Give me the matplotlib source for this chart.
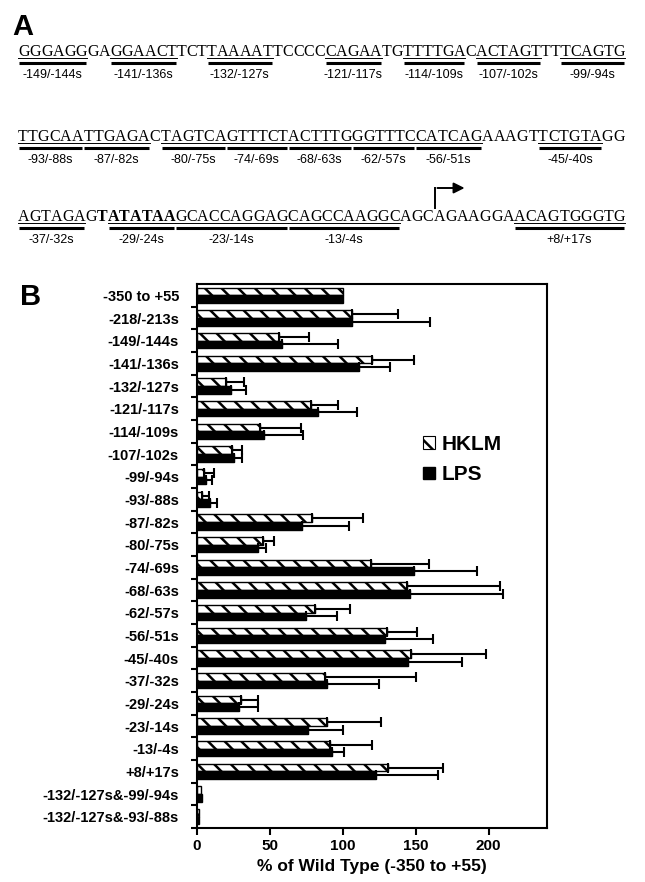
import matplotlib
matplotlib.use("Agg")
import numpy as np
from matplotlib import pyplot as plt
from matplotlib.patches import Patch

plt.rcParams['font.family'] = ['Liberation Sans', 'DejaVu Sans']
plt.rcParams['hatch.linewidth'] = 1.8

# ---- panel A: promoter sequence ----
seq_lines = [
    "GGGAGGGAGGAACTTCTTAAAATTCCCCCAGAATGTTTTGACACTAGTTTTCAGTG",
    "TTGCAATTGAGACTAGTCAGTTTCTACTTTGGGTTTCCATCAGAAAGTTCTGTAGG",
    "AGTAGAGTATATAAGCACCAGGAGCAGCCAAGGCAGCAGAAGGAACAGTGGGTG",
]
# (line, first char, last char, label)
seq_marks = [
    (0, 0, 5, "-149/-144s"), (0, 8, 13, "-141/-136s"), (0, 17, 22, "-132/-127s"),
    (0, 28, 32, "-121/-117s"), (0, 35, 40, "-114/-109s"), (0, 42, 47, "-107/-102s"),
    (0, 50, 55, "-99/-94s"),
    (1, 0, 5, "-93/-88s"), (1, 6, 11, "-87/-82s"), (1, 13, 18, "-80/-75s"),
    (1, 19, 24, "-74/-69s"), (1, 25, 30, "-68/-63s"), (1, 31, 36, "-62/-57s"),
    (1, 37, 42, "-56/-51s"), (1, 48, 53, "-45/-40s"),
    (2, 0, 5, "-37/-32s"), (2, 8, 13, "-29/-24s"), (2, 14, 23, "-23/-14s"),
    (2, 24, 33, "-13/-4s"), (2, 44, 53, "+8/+17s"),
]
tata_box = (2, 7, 13)   # bold letters
tss = (2, 37)           # transcription start (+1)

# ---- panel B: reporter activity ----
constructs = ["-350 to +55", "-218/-213s", "-149/-144s", "-141/-136s", "-132/-127s",
              "-121/-117s", "-114/-109s", "-107/-102s", "-99/-94s", "-93/-88s",
              "-87/-82s", "-80/-75s", "-74/-69s", "-68/-63s", "-62/-57s", "-56/-51s",
              "-45/-40s", "-37/-32s", "-29/-24s", "-23/-14s", "-13/-4s", "+8/+17s",
              "-132/-127s&-99/-94s", "-132/-127s&-93/-88s"]
hklm = [100, 106, 56, 120, 20, 78, 43, 24, 5, 3.5, 79, 45, 119, 144, 81, 130,
        147, 88, 30, 89, 91, 131, 3, 1.5]
hklm_err = [0, 32, 21, 29, 12, 19, 28, 7, 6.5, 5, 35, 7.5, 40, 64, 24, 21,
            51, 62, 12, 37, 29, 38, 0, 0]
lps = [100, 106, 58, 111, 23, 83, 46, 25.5, 6.5, 9, 72, 42, 149, 146, 75, 129,
       145, 89, 29, 76, 92.5, 123, 3.5, 1.5]
lps_err = [0, 54, 39, 21, 10.5, 27, 27, 5.5, 3.5, 5, 32, 5, 43, 64, 21, 33,
           37, 36, 13, 24, 8.5, 42, 0, 0]

W, H = 645, 882
fig = plt.figure(figsize=(W / 100, H / 100), dpi=100)
ax0 = fig.add_axes([0, 0, 1, 1])
ax0.set_xlim(0, W)
ax0.set_ylim(H, 0)
ax0.axis('off')
renderer = fig.canvas.get_renderer()

seq_font = dict(family=['Liberation Serif', 'DejaVu Serif'], fontsize=11.5)


def text_width(s, weight):
    t = ax0.text(0, 0, s, weight=weight, **seq_font)
    w = t.get_window_extent(renderer).width
    t.remove()
    return w


x_left, x_right = 18, 625
baselines = [56, 141, 221]
char_pos = []
for li, line in enumerate(seq_lines):
    weights = ['normal'] * len(line)
    if li == tata_box[0]:
        for k in range(tata_box[1], tata_box[2] + 1):
            weights[k] = 'bold'
    base = {wt: text_width("HH", wt) for wt in set(weights)}
    widths = np.array([text_width("H" + c + "H", wt) - base[wt]
                       for c, wt in zip(line, weights)])
    slack = (x_right - x_left - widths.sum()) / (len(line) - 1)
    xs = x_left + np.concatenate([[0], np.cumsum(widths[:-1])]) + slack * np.arange(len(line))
    char_pos.append((xs, widths))
    for c, wt, x in zip(line, weights, xs):
        ax0.text(x, baselines[li], c, ha='left', va='baseline', weight=wt, **seq_font)

for li, a, b, lab in seq_marks:
    xs, widths = char_pos[li]
    x1, x2 = xs[a], xs[b] + widths[b]
    yb = baselines[li]
    ax0.plot([x1, x2], [yb + 2, yb + 2], color='black', lw=0.7)
    ax0.plot([x1 + 1, x2 - 1], [yb + 7, yb + 7], color='black', lw=2.2, solid_capstyle='butt')
    ax0.text((x1 + x2) / 2, yb + 19, lab, ha='center', va='center', fontsize=9)

# transcription start arrow
xs, widths = char_pos[tss[0]]
xa = xs[tss[1]] + 2
ya = baselines[tss[0]]
ax0.plot([xa, xa], [ya - 13, ya - 33], color='black', lw=1.4)
ax0.annotate('', xy=(xa + 32, ya - 33), xytext=(xa - 0.7, ya - 33),
             arrowprops=dict(arrowstyle='-|>', color='black', lw=1.4, mutation_scale=16))

fig.text(12 / W, 1 - 35 / H, "A", fontsize=21, weight='bold')
fig.text(20 / W, 1 - 305 / H, "B", fontsize=21, weight='bold')

# ---- panel B ----
ax = fig.add_axes([197 / W, 1 - 828 / H, 350 / W, 544 / H])
n = len(constructs)
y = np.arange(n)
h = 0.335
hklm = np.array(hklm, float)
lps = np.array(lps, float)
hklm_err = np.array(hklm_err, float)
lps_err = np.array(lps_err, float)

ax.barh(y - h / 2, hklm, height=h, color='white', edgecolor='black',
        hatch='\\\\', linewidth=1)
ax.barh(y + h / 2, lps, height=h, color='black', edgecolor='black', linewidth=1)

m = hklm_err > 0
ax.errorbar(hklm[m], y[m] - h / 2, xerr=[np.zeros(m.sum()), hklm_err[m]], fmt='none',
            ecolor='black', elinewidth=1.5, capsize=3.5, capthick=1.5)
m = lps_err > 0
ax.errorbar(lps[m], y[m] + h / 2, xerr=[np.zeros(m.sum()), lps_err[m]], fmt='none',
            ecolor='black', elinewidth=1.5, capsize=3.5, capthick=1.5)

ax.set_xlim(0, 240)
ax.set_ylim(n - 0.5, -0.5)
ax.set_yticks(y)
ax.set_yticklabels(constructs, fontweight='bold', fontsize=10.5)
ax.set_yticks(np.arange(0.5, n, 1), minor=True)
ax.tick_params(axis='y', which='major', length=0, pad=13)
ax.tick_params(axis='y', which='minor', length=4, width=1.5, direction='out')
ax.set_xticks([0, 50, 100, 150, 200])
ax.tick_params(axis='x', length=5, width=1.5, labelsize=11, pad=3)
for lab in ax.get_xticklabels():
    lab.set_fontweight('bold')
for sp in ax.spines.values():
    sp.set_linewidth(1.5)
ax.set_xlabel("% of Wild Type (-350 to +55)", fontsize=12.5, fontweight='bold', labelpad=4)

handles = [Patch(facecolor='white', edgecolor='black', hatch='\\\\', linewidth=0.8),
           Patch(facecolor='black', edgecolor='black')]
ax.legend(handles, ['HKLM', 'LPS'], loc='upper left', bbox_to_anchor=(0.593, 0.757),
          frameon=False, handlelength=0.55, handleheight=0.55, handletextpad=0.35,
          labelspacing=0.55, prop={'weight': 'bold', 'size': 15})

fig.savefig("out.png", dpi=100)
